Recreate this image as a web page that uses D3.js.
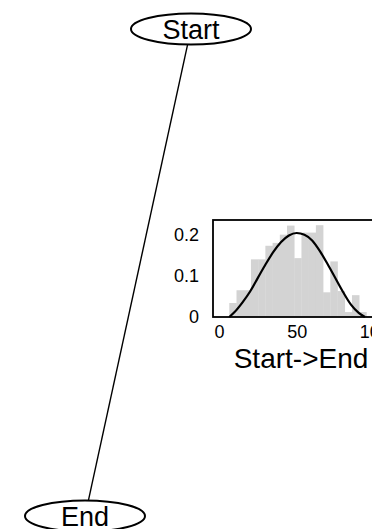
<!DOCTYPE html>
<html><head><meta charset="utf-8">
<script src="https://cdn.jsdelivr.net/npm/d3@7"></script>
<style>body{margin:0;background:#fff}svg{display:block}text{font-family:"Liberation Sans",Arial,sans-serif}</style>
</head><body><svg id="c" width="372" height="529"></svg>
<script>
// nodes of the graph
const nodeNames = ["Start", "End"];
const edgeLabel = "Start->End";
// histogram of the edge distribution
const binStarts = [6.6,11.25,15.9,20.55,25.2,29.85,34.5,39.15,43.8,48.45,53.1,57.75,62.4,67.05,71.7,76.35,81.0,85.65,90.3];
const binWidth = 4.65;
const binValues = [0.034,0.065,0.065,0.14,0.14,0.173,0.18,0.2,0.222,0.143,0.205,0.205,0.223,0.06,0.135,0.063,0.012,0.053,0.012];
// fitted curve
const curveX = [6.6,10,15,20,25,30,35,40,45,50,55,60,65,70,75,80,85,90,94];
const curveY = [0,0.012,0.035,0.062,0.095,0.128,0.158,0.182,0.198,0.204,0.2,0.186,0.16,0.128,0.094,0.06,0.03,0.01,0];
const xTicks = [0,50,100];
const yTicks = [0,0.1,0.2];

const svg = d3.select("#c");
const font = '"Liberation Sans",Arial,sans-serif';

// graph layout scale (graph coordinates -> pixels)
const gx = d3.scaleLinear().domain([0,1]).range([85,191]);
const gy = d3.scaleLinear().domain([0,1]).range([516,29]);
const nodePos = [[1,1],[0,0]];
const rx = 60, ry = 15.5;

// edge
const s = nodePos[0], e = nodePos[1];
const x1 = gx(s[0]), y1 = gy(s[1]), x2 = gx(e[0]), y2 = gy(e[1]);
function edgePoint(cx, cy, tx, ty){
  const dx = tx-cx, dy = ty-cy;
  const t = 1/Math.sqrt((dx*dx)/(rx*rx)+(dy*dy)/(ry*ry));
  return [cx+dx*t, cy+dy*t];
}
const p1 = edgePoint(x1,y1,x2,y2), p2 = edgePoint(x2,y2,x1,y1);
svg.append("line").attr("x1",p1[0]).attr("y1",p1[1]).attr("x2",p2[0]).attr("y2",p2[1])
  .attr("stroke","#000").attr("stroke-width",1.4);

// nodes
nodeNames.forEach((n,i)=>{
  const cx = gx(nodePos[i][0]), cy = gy(nodePos[i][1]);
  svg.append("ellipse").attr("cx",cx).attr("cy",cy).attr("rx",rx).attr("ry",ry)
    .attr("fill","#fff").attr("stroke","#000").attr("stroke-width",2);
  svg.append("text").attr("x",cx).attr("y",cy+9.5).attr("text-anchor","middle")
    .attr("font-size",27).text(n);
});

// inset histogram
const x = d3.scaleLinear().domain([-3.9,105]).range([213,382]);
const y = d3.scaleLinear().domain([0,0.2356]).range([317,220]);
const g = svg.append("g");
g.selectAll("rect.bar").data(binStarts).join("rect").attr("class","bar")
  .attr("x",d=>x(d)).attr("width",d=>x(d+binWidth)-x(d)+0.3)
  .attr("y",(d,i)=>y(binValues[i])).attr("height",(d,i)=>y(0)-y(binValues[i]))
  .attr("fill","#d3d3d3");
const line = d3.line().x(d=>x(d[0])).y(d=>y(d[1])).curve(d3.curveMonotoneX);
g.append("path").datum(curveX.map((v,i)=>[v,curveY[i]])).attr("d",line)
  .attr("fill","none").attr("stroke","#000").attr("stroke-width",2.2);
g.append("rect").attr("x",x.range()[0]).attr("y",y.range()[1])
  .attr("width",x.range()[1]-x.range()[0]).attr("height",y.range()[0]-y.range()[1])
  .attr("fill","none").attr("stroke","#000").attr("stroke-width",1.8);

const xa = g.append("g").attr("transform",`translate(0,${y(0)})`)
  .call(d3.axisBottom(x).tickValues(xTicks).tickSize(0).tickPadding(8).tickFormat(d3.format("d")));
const ya = g.append("g").attr("transform",`translate(${x.range()[0]},0)`)
  .call(d3.axisLeft(y).tickValues(yTicks).tickSize(0).tickPadding(14).tickFormat(d=>d===0?"0":d3.format(".1f")(d)));
[xa,ya].forEach(a=>{a.select(".domain").remove();a.selectAll("text").attr("font-size",18).attr("font-family",font).attr("fill","#000");});

svg.append("text").attr("x",301).attr("y",368).attr("text-anchor","middle")
  .attr("font-size",28).text(edgeLabel);
</script></body></html>
